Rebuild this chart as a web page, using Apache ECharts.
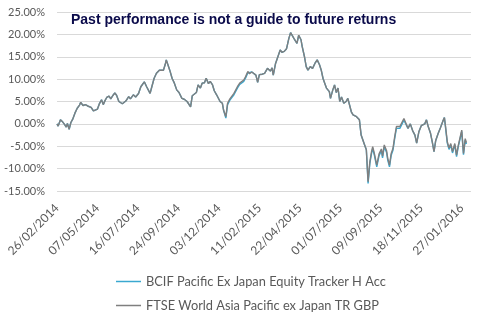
<!DOCTYPE html>
<html><head><meta charset="utf-8">
<script src="https://cdn.jsdelivr.net/npm/echarts/dist/echarts.min.js"></script>
<style>html,body{margin:0;padding:0;background:#fff}#c{width:497px;height:322px}</style>
</head><body><div id="c"></div>
<script>
const titleText = 'Past performance is not a guide to future returns';
const seriesNames = ['BCIF Pacific Ex Japan Equity Tracker H Acc', 'FTSE World Asia Pacific ex Japan TR GBP'];
const tickLabels = ['26/02/2014','07/05/2014','16/07/2014','24/09/2014','03/12/2014','11/02/2015','22/04/2015','01/07/2015','09/09/2015','18/11/2015','27/01/2016'];
// day offsets from 26/02/2014
const days = [0,2,6,10,13,16,18,21,24,27,
31,35,39,41,45,49,53,56,59,63,
66,70,73,77,80,83,86,90,93,97,
100,103,107,110,113,119,124,127,132,136,
141,145,151,155,161,164,168,172,177,180,
184,187,189,192,195,199,203,207,211,216,
220,225,228,231,234,237,241,244,248,251,
255,258,262,265,269,272,276,279,282,286,
288,292,295,299,302,306,309,312,316,319,
323,326,330,333,337,340,344,347,350,355,
359,364,369,372,374,378,382,386,389,393,
397,401,404,408,411,415,418,422,424,428,
431,434,438,442,446,450,454,457,460,463,
466,468,471,473,477,480,483,486,489,492,
496,500,503,506,509,512,515,518,520,523,
526,529,532,535,538,541,544,546,549,553,
557,561,563,566,570,572,575,578,581,584,
587,590,593,596,600,603,607,611,615,619,
622,626,630,633,636,639,642,646,649,652,
655,659,663,667,670,672,675,678,681,684,
688,691,694,697,700,703,706,708];
const ftse = [0.0,-0.5,0.9,0.4,-0.1,-0.7,0.1,-1.2,0.3,1.0,
2.4,3.5,4.2,4.8,4.1,4.3,4.0,4.3,3.7,2.9,
2.5,3.3,4.4,5.4,4.3,5.2,5.9,6.2,5.6,6.4,
6.9,6.4,5.0,4.7,4.5,5.1,6.1,5.6,6.5,6.0,
6.8,8.3,9.4,8.3,6.8,8.3,10.2,11.3,12.0,12.4,
12.0,13.2,14.3,14.7,12.0,10.2,9.1,7.6,7.0,5.7,
5.5,5.0,5.2,3.8,6.3,6.7,7.0,8.7,8.0,9.1,
9.2,10.2,9.0,9.5,8.7,7.4,6.5,6.1,5.0,4.6,
3.1,1.6,4.6,5.6,6.0,6.8,7.0,8.3,9.1,8.9,
9.8,10.5,11.7,11.2,11.6,11.3,10.9,9.3,11.0,11.1,
11.3,12.4,11.8,12.5,10.9,13.5,15.0,16.5,16.0,16.2,
16.8,19.1,20.4,19.5,18.8,18.0,19.8,18.8,17.3,15.0,
12.8,12.0,12.8,12.4,13.5,14.3,13.2,12.0,10.2,9.1,
8.0,8.3,7.2,5.7,7.6,8.7,7.0,8.0,5.0,6.0,
4.6,5.0,5.7,5.7,2.7,2.0,2.2,1.6,1.8,0.9,
-2.5,-2.7,-4.7,-5.8,-12.9,-8.5,-6.2,-5.1,-6.7,-9.2,
-6.7,-5.6,-7.2,-4.7,-6.0,-7.7,-9.2,-6.6,-5.5,-2.9,
-0.6,-0.2,-0.6,-0.8,1.2,0.9,-1.0,0.0,-1.5,-2.5,
-4.3,-1.7,-0.4,-0.6,0.0,0.9,-0.6,-2.1,-4.0,-6.2,
-3.7,-2.2,-0.9,0.5,1.4,-0.6,-4.0,-5.4,-4.4,-6.2,
-4.4,-7.0,-4.8,-4.4,-1.4,-6.6,-3.3,-4.2];
const bcif = [0.0,-0.5,0.9,0.4,-0.1,-0.7,0.1,-1.2,0.3,1.0,
2.4,3.5,4.2,4.8,4.1,4.3,4.0,4.3,3.7,2.9,
2.5,3.3,4.4,5.4,4.3,5.2,5.9,6.2,5.6,6.4,
6.9,6.4,5.0,4.7,4.5,5.1,6.1,5.6,6.5,6.0,
6.8,8.3,9.4,8.3,6.8,8.3,10.2,11.3,12.0,12.4,
12.0,13.2,14.3,14.7,12.0,10.2,9.1,7.6,7.0,5.7,
5.5,5.0,5.2,3.8,6.3,6.7,7.0,8.7,8.0,9.1,
9.2,10.2,9.0,9.5,8.7,7.4,6.5,6.1,5.0,4.6,
3.1,1.3,4.3,5.3,5.7,6.5,6.7,8.0,8.8,8.6,
9.5,10.2,11.4,11.2,11.6,11.3,10.9,9.3,11.0,11.1,
11.3,12.4,11.8,12.5,10.9,13.5,15.0,16.5,16.0,16.2,
16.8,19.1,20.4,19.5,18.8,18.0,19.8,18.8,17.3,15.0,
12.8,12.0,12.8,12.4,13.5,14.3,13.2,12.0,10.2,9.1,
8.0,8.3,7.2,5.7,7.6,8.7,7.0,8.0,5.0,6.0,
4.6,5.0,5.7,5.7,2.7,2.0,2.2,1.6,1.8,0.9,
-2.5,-2.7,-4.7,-5.8,-13.3,-8.9,-6.6,-5.5,-7.1,-9.6,
-7.1,-6.0,-7.6,-5.1,-6.4,-8.1,-9.6,-7.0,-5.9,-3.3,
-1.0,-0.6,-1.0,-1.2,0.8,0.9,-1.0,0.0,-1.5,-2.5,
-4.3,-1.7,-0.4,-0.6,0.0,0.9,-0.6,-2.1,-4.0,-6.2,
-3.7,-2.2,-0.9,0.5,1.4,-0.9,-4.3,-5.7,-4.7,-6.5,
-4.7,-7.3,-5.1,-4.7,-1.7,-6.9,-3.6,-4.5];

const TICK_STEP = 70;
const chart = echarts.init(document.getElementById('c'), null, {renderer: 'canvas'});
const pair = arr => days.map((d, i) => [d, arr[i]]);
chart.setOption({
  animation: false,
  backgroundColor: '#fff',
  title: {
    text: titleText, left: 71, top: 13, padding: 0,
    textStyle: {fontFamily: 'Liberation Sans', fontWeight: 'bold', fontSize: 14, color: '#0A0A4A'}
  },
  legend: {
    orient: 'vertical', left: 111, top: 270, itemWidth: 25, itemHeight: 1.5, itemGap: 11,
    icon: 'rect',
    textStyle: {fontFamily: 'Lato', fontSize: 12.8, color: '#595959'},
    data: seriesNames
  },
  grid: {left: 57, right: 26, top: 12, bottom: 131},
  xAxis: {
    type: 'value', min: 0, max: 716, interval: TICK_STEP,
    axisLine: {show: false}, axisTick: {show: false}, splitLine: {show: false},
    axisLabel: {
      rotate: 45, margin: 15, color: '#595959', fontFamily: 'Lato', fontSize: 12,
      showMaxLabel: false,
      formatter: v => { const k = v / TICK_STEP; return Number.isInteger(k) && k < tickLabels.length ? tickLabels[k] : ''; }
    }
  },
  yAxis: {
    type: 'value', min: -15, max: 25, interval: 5,
    axisLine: {show: false}, axisTick: {show: false},
    splitLine: {lineStyle: {color: '#D9D9D9', width: 1}},
    axisLabel: {margin: 12, color: '#595959', fontFamily: 'Lato', fontSize: 11, formatter: v => v.toFixed(2) + '%'}
  },
  series: [
    {name: seriesNames[0], type: 'line', data: pair(bcif), showSymbol: false, symbol: 'none',
     lineStyle: {color: '#3AA8D0', width: 1.4}, itemStyle: {color: '#3AA8D0'}},
    {name: seriesNames[1], type: 'line', data: pair(ftse), showSymbol: false, symbol: 'none',
     lineStyle: {color: '#7F7F7F', width: 1.4}, itemStyle: {color: '#7F7F7F'}}
  ]
});
</script></body></html>
